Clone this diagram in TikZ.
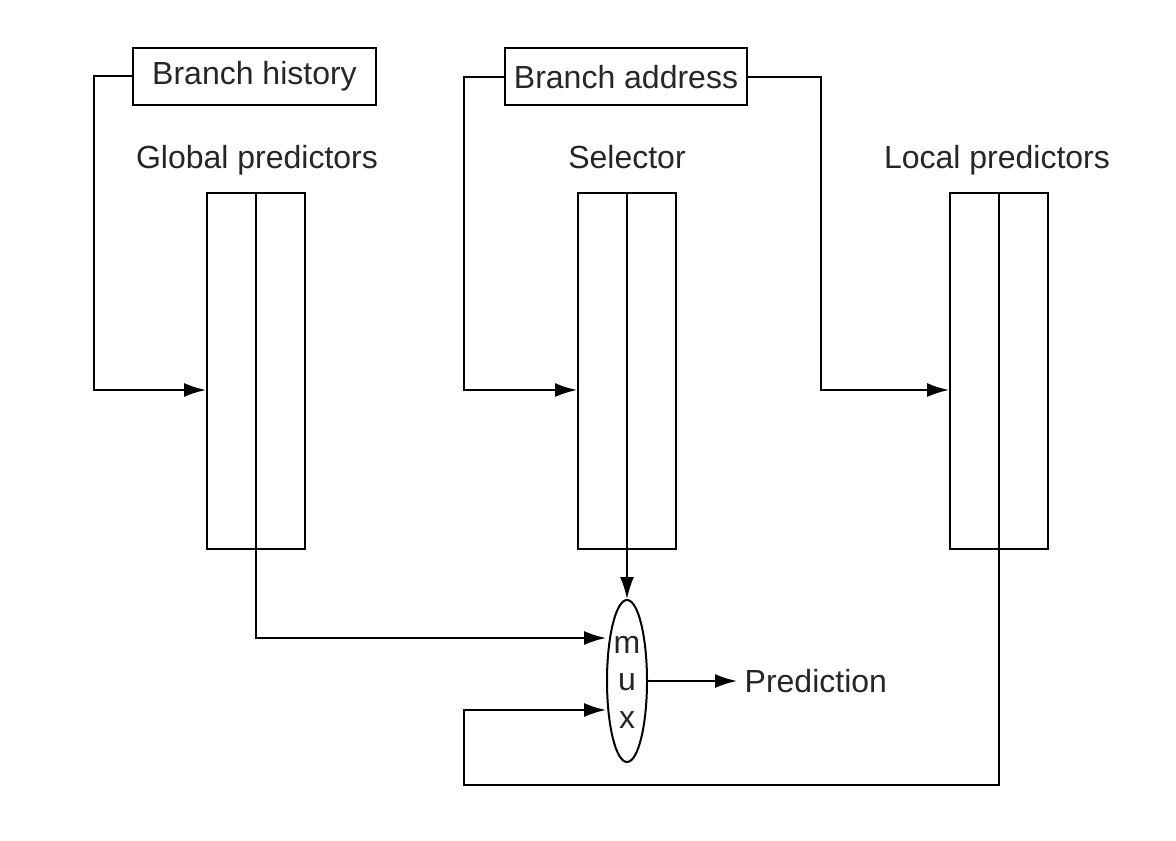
\documentclass[tikz,border=0pt]{standalone}
\usepackage{fontspec}
\setmainfont{Liberation Sans}
\usetikzlibrary{arrows.meta,positioning,shapes.geometric}

\begin{document}
\begin{tikzpicture}[x=0.5pt,y=-0.5pt,line width=1pt,
    lbl/.style={font=\fontsize{16}{19}\selectfont,text=black!85},
    inbox/.style={draw,lbl,minimum height=28.5pt,inner sep=0pt},
    tblbox/.style={draw,minimum width=49pt,minimum height=178pt,inner sep=0pt},
    >={Latex[length=11pt,width=7pt]}]
  \useasboundingbox (0,0) rectangle (1176,840);
  % inputs
  \node[inbox,minimum width=121.5pt] (hist) at (254.5,76.5) {Branch history};
  \node[inbox,minimum width=121pt] (addr) at (626,77) {Branch address};
  % predictor tables
  \node[tblbox] (glob) at (256,371) {};
  \node[tblbox] (sel) at (627,371) {};
  \node[tblbox] (loc) at (999,371) {};
  \foreach \t in {glob,sel,loc}
    \draw (\t.north) -- (\t.south);
  \node[lbl,anchor=base] (glob_lbl) at (257,168) {Global predictors};
  \node[lbl,anchor=base] (sel_lbl) at (627,168) {Selector};
  \node[lbl,anchor=base] (loc_lbl) at (997,168) {Local predictors};
  % mux
  \node[ellipse,draw,minimum width=20pt,minimum height=81pt,inner sep=0pt] (mux) at (627,681) {};
  \foreach \l/\y in {m/645,u/682,x/720}
    \node[lbl,inner sep=0pt] (mux_\l) at (627,\y) {\l};
  \node[lbl,anchor=west] (pred) at (737,681) {Prediction};
  %%%
  \coordinate (hcorner) at (94,390);
  \coordinate (acorner) at (464,390);
  \coordinate (bcorner) at (821,390);
  \coordinate (loop) at (464,785);
  \draw[->] (hist.west) -| (hcorner) -- (hcorner -| glob.west);
  \draw[->] (addr.west) -| (acorner) -- (acorner -| sel.west);
  \draw[->] (addr.east) -| (bcorner) -- (bcorner -| loc.west);
  \draw[->] (sel.south) -- (mux.north);
  \draw[->] (glob.south) |- ([yshift=21.5pt]mux.west);
  \draw[->] (loc.south) |- (loop) |- ([yshift=-14.5pt]mux.west);
  \draw[->] (mux.east) -- (pred.west);
\end{tikzpicture}
\end{document}
